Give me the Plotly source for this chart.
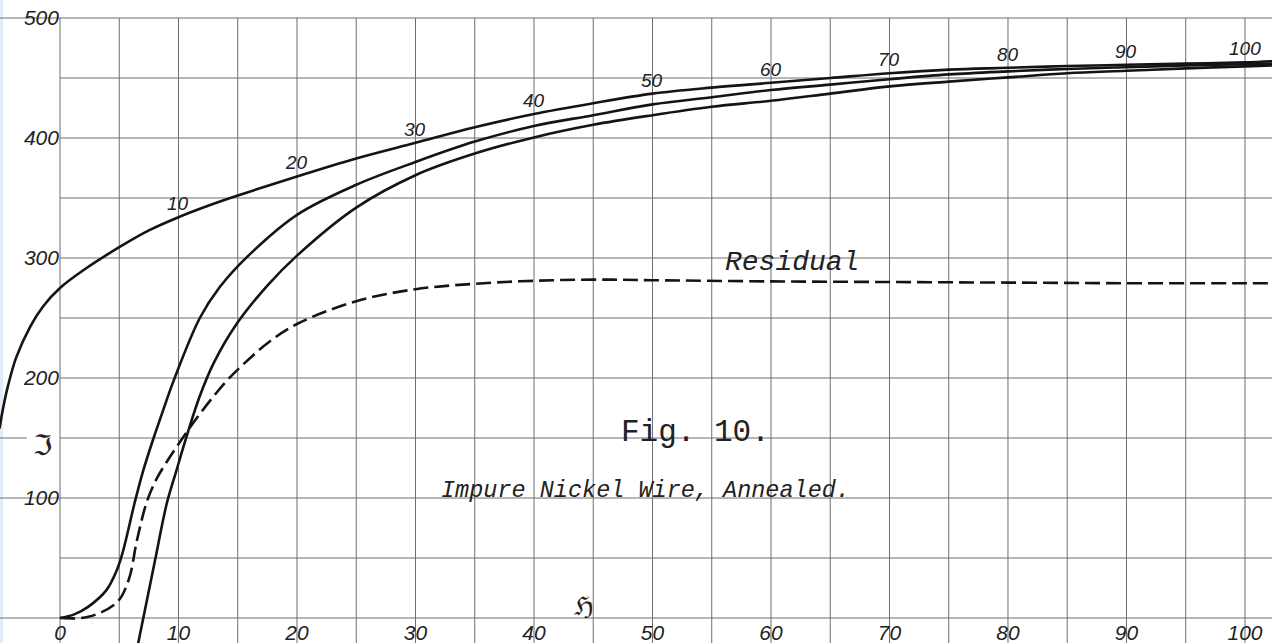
import plotly.graph_objects as go

# ---- magnetisation curves (field H on x, intensity I on y) ----
upper_x = [-5.1, -4.8, -4.4, -3.7, -2.5, -1.4, 0, 2, 5, 7.5, 10, 12.5, 15, 20, 25, 30,
           35, 40, 45, 50, 55, 60, 65, 70, 75, 80, 85, 90, 95, 100, 102.5]
upper_y = [158, 175, 193, 217, 243, 260, 275, 290, 309, 323, 334, 343.5, 352, 368, 383, 396,
           409, 420, 429, 437, 442, 446, 450, 454, 457, 458.5, 460, 461, 462, 463, 464]

middle_x = [0, 1.2, 2.4, 3.9, 4.8, 5.3, 6.3, 7.0, 7.9, 8.7, 9.6, 11.8, 13.5, 15.9, 20,
            25, 30, 35, 40, 45, 50, 55, 60, 65, 70, 75, 80, 85, 90, 95, 100, 102.5]
middle_y = [0, 3, 9.5, 23, 40, 55, 96, 122, 150, 173, 198, 250, 276, 302, 336,
            361, 380, 397, 410, 419, 428, 434, 440, 444.5, 449, 453, 455.5, 457.5, 459,
            460.5, 461.5, 462]

lower_x = [6.6, 7.03, 8.0, 9.0, 9.8, 10.55, 11.8, 13, 14.9, 17.5, 20, 25, 30, 35, 40, 45,
           50, 55, 60, 65, 70, 75, 80, 85, 90, 95, 100, 102.5]
lower_y = [-21, 0, 47, 95, 122, 147, 185, 213, 245, 277, 302, 342, 369, 387, 400.5, 411,
           419, 426, 431, 437, 443, 447, 450.5, 454, 456, 458, 459.7, 460.5]

residual_x = [0, 2.4, 4.8, 5.8, 6.5, 7.3, 8.1, 9, 10.7, 11.8, 12.9, 14.1, 15, 17.5, 20, 25,
              30, 35, 40, 45, 50, 60, 70, 80, 90, 100, 102.5]
residual_y = [0, 1, 13, 32, 65, 96, 115, 130, 155, 170, 184, 198, 207, 229, 245, 264,
              274, 278.5, 281, 282, 281.5, 280.5, 280, 279.5, 279, 279, 279]

# field values written along the upper curve
curve_marks = [10, 20, 30, 40, 50, 60, 70, 80, 90, 100]

# axis ticks
x_ticks = [0, 10, 20, 30, 40, 50, 60, 70, 80, 90, 100]
x_ticktext = ["0", "10", "20", "30", "40", "50", "60", "70", "80", "90", "100"]
y_ticks = [100, 200, 300, 400, 500]
y_ticktext = ["100", "200", "300", "400", "500"]

X_RANGE = [-5.063, 102.28]
Y_RANGE = [-20.83, 515]

INK = "#141414"
GRID = "#6e6e6e"

fig = go.Figure()

for xs, ys, dash in [(upper_x, upper_y, "solid"),
                     (middle_x, middle_y, "solid"),
                     (lower_x, lower_y, "solid"),
                     (residual_x, residual_y, "15px,6px")]:
    fig.add_trace(go.Scatter(
        x=xs, y=ys, mode="lines",
        line=dict(color=INK, width=2.6, dash=dash, shape="spline", smoothing=1.0),
        hoverinfo="skip", showlegend=False,
    ))

# ---- graph-paper grid ----
shapes = []
grid_line = dict(color=GRID, width=1)
for gx in range(0, 101, 5):
    shapes.append(dict(type="line", xref="x", yref="y", x0=gx, x1=gx, y0=-30, y1=500,
                       line=grid_line, layer="below"))
for gy in range(0, 501, 50):
    full = gy in (0, 100, 500)
    shapes.append(dict(type="line", xref="x", yref="y", x0=-6 if full else 0, x1=105,
                       y0=gy, y1=gy, line=grid_line, layer="below"))
# short stroke in front of the ordinate symbol
shapes.append(dict(type="line", xref="x", yref="y", x0=-6, x1=-2.8, y0=150, y1=150,
                   line=grid_line, layer="below"))
# left page edge
shapes.append(dict(type="rect", xref="paper", yref="paper", x0=0, x1=0.0025, y0=0, y1=1,
                   fillcolor="#e3ecf6", line=dict(width=0), layer="below"))

annotations = []
hand = dict(family="Liberation Sans, Arial, sans-serif", size=19, color="#222", style="italic")
upper_lookup = dict(zip(upper_x, upper_y))
for m in curve_marks:
    annotations.append(dict(x=m, y=upper_lookup[m], text=str(m), showarrow=False,
                            xanchor="center", yanchor="bottom", yshift=1, font=hand))

annotations += [
    dict(x=61.8, y=296, text="Residual", showarrow=False,
         font=dict(family="Liberation Mono, monospace", size=28, color="#222", style="italic")),
    dict(x=53.6, y=155, text="Fig. 10.", showarrow=False,
         font=dict(family="Liberation Mono, monospace", size=31, color="#222")),
    dict(x=49.45, y=106, text="Impure Nickel Wire, Annealed.", showarrow=False,
         font=dict(family="Liberation Mono, monospace", size=23.5, color="#222", style="italic")),
    dict(x=-1.43, y=144, text="ℑ", showarrow=False,
         font=dict(family="DejaVu Serif, DejaVu Sans", size=28, color="#222")),
    dict(x=44.2, y=10, text="ℌ", showarrow=False,
         font=dict(family="DejaVu Serif, DejaVu Sans", size=26, color="#222")),
]

tick_font = dict(family="Liberation Sans, Arial, sans-serif", size=21, color="#222", style="italic")

fig.update_layout(
    width=1272, height=643,
    margin=dict(l=0, r=0, t=0, b=0),
    paper_bgcolor="white", plot_bgcolor="white",
    showlegend=False,
    shapes=shapes, annotations=annotations,
    xaxis=dict(range=X_RANGE, showgrid=False, zeroline=False, showline=False,
               anchor="free", position=(0 - Y_RANGE[0]) / (Y_RANGE[1] - Y_RANGE[0]),
               tickmode="array", tickvals=x_ticks, ticktext=x_ticktext, ticks="",
               tickfont=tick_font, automargin=False, fixedrange=True),
    yaxis=dict(range=Y_RANGE, showgrid=False, zeroline=False, showline=False,
               anchor="free", position=(0 - X_RANGE[0]) / (X_RANGE[1] - X_RANGE[0]),
               tickmode="array", tickvals=y_ticks, ticktext=y_ticktext, ticks="",
               ticklabelstandoff=1, tickfont=tick_font, automargin=False, fixedrange=True),
)

fig.write_html("out.html")
